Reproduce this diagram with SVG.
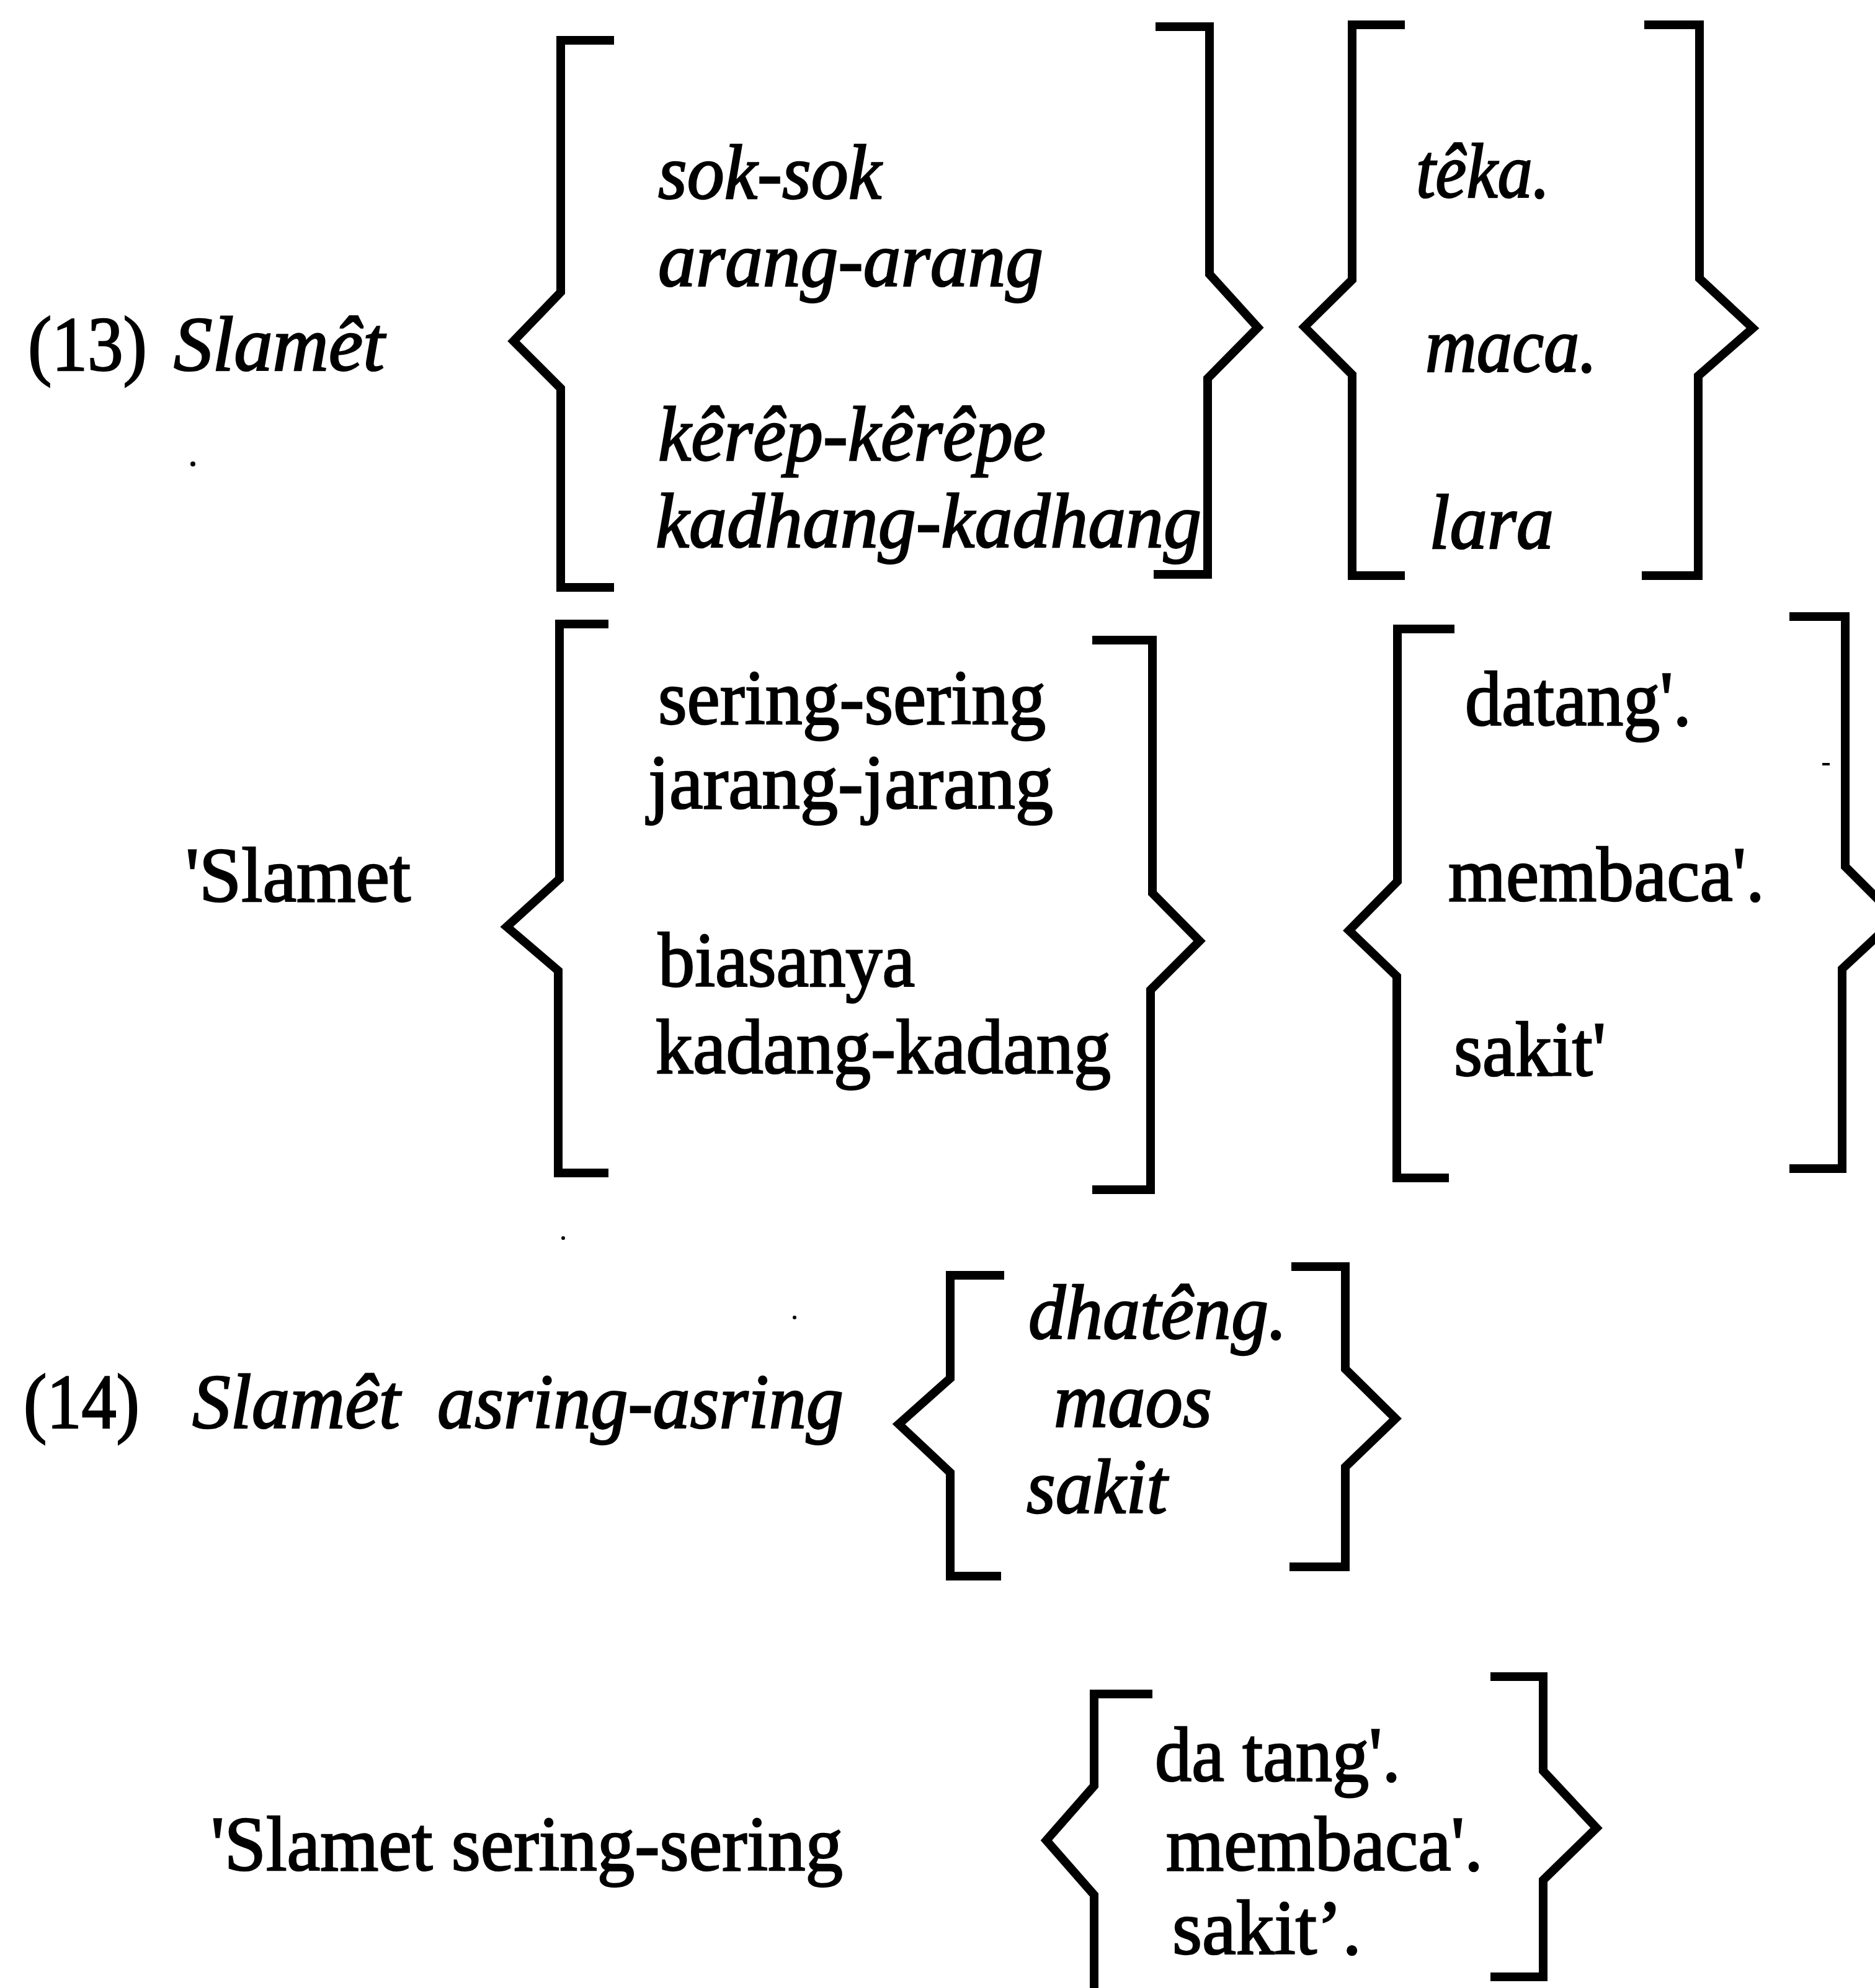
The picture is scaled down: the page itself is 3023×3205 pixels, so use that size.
<svg xmlns="http://www.w3.org/2000/svg" width="3023" height="3205" viewBox="0 0 3023 3205">
  <style>
    .br { fill: none; stroke: #000; stroke-width: 14; stroke-linejoin: miter; stroke-linecap: square; }
    .t { font-family: "Liberation Serif", "Times New Roman", serif; font-size: 124px; fill: #000; stroke: #000; stroke-width: 2.5; }
    .it { font-style: italic; }
  </style>
  <rect width="3023" height="3205" fill="#fff"/>

  <!-- (13) Javanese example -->
  <g id="ex13-label">
    <text class="t" x="45" y="597" textLength="192" lengthAdjust="spacingAndGlyphs">(13)</text>
    <text class="t it" x="280" y="597" textLength="340" lengthAdjust="spacingAndGlyphs">Slamêt</text>
  </g>
  <g id="ex13-adverbs">
    <path class="br" d="M983,65 H904 V471 L828,550 L904,626 V947 H983"/>
    <text class="t it" x="1061" y="320" textLength="360" lengthAdjust="spacingAndGlyphs">sok-sok</text>
    <text class="t it" x="1061" y="461" textLength="621" lengthAdjust="spacingAndGlyphs">arang-arang</text>
    <text class="t it" x="1061" y="742" textLength="625" lengthAdjust="spacingAndGlyphs">kêrêp-kêrêpe</text>
    <text class="t it" x="1057" y="882" textLength="880" lengthAdjust="spacingAndGlyphs">kadhang-kadhang</text>
    <path class="br" d="M1870,43 H1950 V442 L2028,528 L1947,610 V926 H1867"/>
  </g>
  <g id="ex13-verbs">
    <path class="br" d="M2258,40 H2180 V451 L2103,527 L2180,604 V928 H2258"/>
    <text class="t it" x="2283" y="318" textLength="216" lengthAdjust="spacingAndGlyphs">têka.</text>
    <text class="t it" x="2298" y="599" textLength="277" lengthAdjust="spacingAndGlyphs">maca.</text>
    <text class="t it" x="2304" y="884" textLength="201" lengthAdjust="spacingAndGlyphs">lara</text>
    <path class="br" d="M2658,40 H2740 V449 L2826,529 L2738,606 V928 H2654"/>
  </g>

  <!-- (13) Indonesian gloss -->
  <g id="gloss13-label">
    <text class="t" x="299" y="1453" textLength="363" lengthAdjust="spacingAndGlyphs">'Slamet</text>
  </g>
  <g id="gloss13-adverbs">
    <path class="br" d="M974,1006 H902 V1417 L817,1494 L900,1565 V1891 H974"/>
    <text class="t" x="1061" y="1167" textLength="625" lengthAdjust="spacingAndGlyphs">sering-sering</text>
    <text class="t" x="1045" y="1303" textLength="653" lengthAdjust="spacingAndGlyphs">jarang-jarang</text>
    <text class="t" x="1061" y="1590" textLength="414" lengthAdjust="spacingAndGlyphs">biasanya</text>
    <text class="t" x="1057" y="1730" textLength="734" lengthAdjust="spacingAndGlyphs">kadang-kadang</text>
    <path class="br" d="M1768,1032 H1858 V1440 L1934,1517 L1855,1596 V1918 H1768"/>
  </g>
  <g id="gloss13-verbs">
    <path class="br" d="M2338,1014 H2253 V1421 L2175,1500 L2252,1574 V1899 H2329"/>
    <text class="t" x="2362" y="1169" textLength="365" lengthAdjust="spacingAndGlyphs">datang'.</text>
    <text class="t" x="2335" y="1452" textLength="510" lengthAdjust="spacingAndGlyphs">membaca'.</text>
    <text class="t" x="2344" y="1734" textLength="245" lengthAdjust="spacingAndGlyphs">sakit'</text>
    <path class="br" d="M2892,994 H2975 V1397 L3058,1480 L2970,1562 V1884 H2892"/>
  </g>

  <!-- (14) Javanese example -->
  <g id="ex14-label">
    <text class="t" x="38" y="2302" textLength="187" lengthAdjust="spacingAndGlyphs">(14)</text>
    <text class="t it" x="310" y="2302" textLength="335" lengthAdjust="spacingAndGlyphs">Slamêt</text>
    <text class="t it" x="705" y="2302" textLength="655" lengthAdjust="spacingAndGlyphs">asring-asring</text>
  </g>
  <g id="ex14-verbs">
    <path class="br" d="M1612,2056 H1532 V2222 L1449,2296 L1532,2374 V2541 H1607"/>
    <text class="t it" x="1658" y="2158" textLength="417" lengthAdjust="spacingAndGlyphs">dhatêng.</text>
    <text class="t it" x="1699" y="2300" textLength="255" lengthAdjust="spacingAndGlyphs">maos</text>
    <text class="t it" x="1655" y="2439" textLength="227" lengthAdjust="spacingAndGlyphs">sakit</text>
    <path class="br" d="M2089,2042 H2169 V2207 L2250,2287 L2169,2365 V2526 H2086"/>
  </g>

  <!-- (14) Indonesian gloss -->
  <g id="gloss14-label">
    <text class="t" x="340" y="3015" textLength="1019" lengthAdjust="spacingAndGlyphs">'Slamet sering-sering</text>
  </g>
  <g id="gloss14-verbs">
    <path class="br" d="M1851,2731 H1764 V2879 L1687,2967 L1764,3055 V3215"/>
    <text class="t" x="1862" y="2871" textLength="396" lengthAdjust="spacingAndGlyphs">da tang'.</text>
    <text class="t" x="1880" y="3015" textLength="511" lengthAdjust="spacingAndGlyphs">membaca'.</text>
    <text class="t" x="1890" y="3150" textLength="305" lengthAdjust="spacingAndGlyphs">sakit’.</text>
    <path class="br" d="M2410,2703 H2488 V2855 L2574,2947 L2488,3031 V3187 H2410"/>
  </g>

  <!-- stray specks -->
  <g id="specks" fill="#000">
    <circle cx="311" cy="748" r="4"/>
    <circle cx="908" cy="1996" r="3"/>
    <circle cx="1281" cy="2124" r="3"/>
    <rect x="2938" y="1230" width="12" height="4"/>
  </g>
</svg>
